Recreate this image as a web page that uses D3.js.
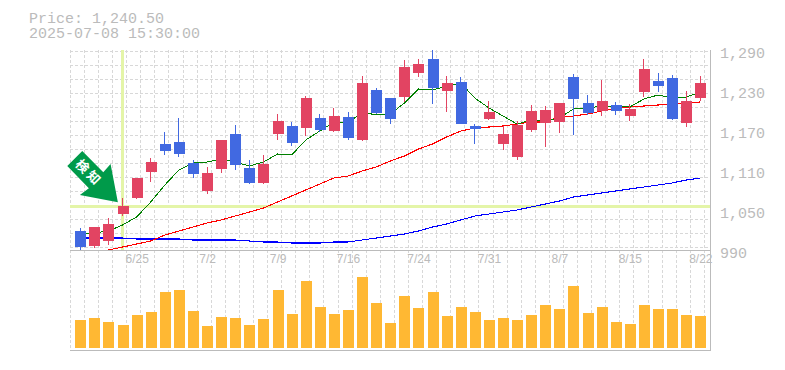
<!DOCTYPE html>
<html><head><meta charset="utf-8">
<script src="https://cdn.jsdelivr.net/npm/d3@7"></script>
<style>html,body{margin:0;padding:0;background:#fff;overflow:hidden}svg{display:block}</style>
</head><body><div id="chart"></div>
<script>
const headerLines = ["Price: 1,240.50", "2025-07-08 15:30:00"];
const badgeText = "検知";
const priceTicks = [990, 1050, 1110, 1170, 1230, 1290];
const dateIndex = [4, 9, 14, 19, 24, 29, 34, 39, 44];
const dateLabels = ["6/25", "7/2", "7/9", "7/16", "7/24", "7/31", "8/7", "8/15", "8/22"];
const markerIndex = 3;
const markerPrice = 1056;
const open = [1018.5,996,1003.5,1044,1068,1107,1149,1152,1120.5,1078.5,1111.5,1164,1113,1090.5,1164,1176,1173,1188,1168.5,1189.5,1155,1230,1218,1219.5,1255.5,1276.5,1228.5,1242,1176,1186.5,1149,1129.5,1170,1180.5,1182,1249.5,1210.5,1198.5,1207.5,1191,1227,1243.5,1248,1180.5,1218];
const close = [994.5,1024.5,1029,1056,1098,1122,1138.5,1134,1104,1105.5,1155,1117.5,1090.5,1119,1183.5,1150.5,1218,1170,1191,1158,1240.5,1195.5,1186.5,1264.5,1269,1233,1240.5,1179,1171.5,1197,1164,1177.5,1198.5,1200,1210.5,1216.5,1195.5,1213.5,1198.5,1201.5,1261.5,1236,1186.5,1213.5,1240.5];
const high = [1023,1024.5,1038,1068,1098,1128,1167,1188,1125,1114.5,1155,1177.5,1125,1132.5,1194,1182,1221,1194,1203,1197,1251,1233,1218,1275,1276.5,1290,1251,1249.5,1179,1213.5,1176,1183.5,1207.5,1206,1210.5,1254,1222.5,1245,1212,1209,1276.5,1255.5,1252.5,1228.5,1251];
const low = [990,993,997.5,1041,1066.5,1092,1132.5,1129.5,1098,1074,1105.5,1110,1089,1089,1155,1146,1161,1167,1167,1155,1153.5,1194,1179,1212,1249.5,1209,1197,1179,1149,1185,1140,1125,1167,1144.5,1165.5,1162.5,1192.5,1191,1192.5,1183.5,1219.5,1227,1185,1174.5,1213.5];
const maShort = [1015.5,1015.5,1018.5,1027.5,1039.5,1062,1087.5,1110,1120.5,1122,1126.5,1122,1116,1122,1134,1132.5,1155,1168.5,1182,1180.5,1197,1192.5,1194,1210.5,1231.5,1230,1236,1240.5,1218,1203,1191,1179,1185,1183.5,1188,1201.5,1203,1206,1206,1204.5,1216.5,1222.5,1218,1219.5,1227];
const maMid = [null,null,990,994.5,999,1003.5,1012.5,1018.5,1024.5,1030.5,1035,1041,1047,1053,1062,1071,1080,1089,1098,1101,1108.5,1114.5,1123.5,1131,1141.5,1149,1159.5,1168.5,1173,1174.5,1176,1179,1182,1182,1189.5,1191,1194,1198.5,1203,1204.5,1206,1207.5,1209,1210.5,1212];
const maLong = [1008,1008,1008,1008,1006.5,1006.5,1006.5,1006.5,1005,1005,1005,1005,1003.5,1002,1002,1000.5,1000.5,1000.5,1002,1002,1005,1008,1011,1014,1018.5,1024.5,1029,1035,1041,1044,1047,1050,1054.5,1059,1063.5,1069.5,1072.5,1075.5,1078.5,1081.5,1084.5,1087.5,1090.5,1095,1098];
const volume = [28,30,26,23,33,36,56,58,37,22,31,30,23,29,58,34,67,41,34,38,71,45,25,52,40,56,32,41,36,28,30,28,33,43,39,62,35,41,26,24,43,39,39,33,32];

const W = 785, H = 370;
const cUp = "#e24462", cDown = "#4169e1", cGrid = "#d8d8d8", cAxis = "#bbbbbb", cText = "#bbbbbb", cCross = "#e4f5a8", cVol = "#ffb833";
const svg = d3.select("#chart").append("svg").attr("width", W).attr("height", H);
const x = d3.scaleLinear().domain([0, 44]).range([80.3, 700.3]);
const y = d3.scaleLinear().domain([990, 1290]).range([250, 50]);
const yv = d3.scaleLinear().domain([0, 71]).range([348, 277]);
const crisp = "crispEdges";

// grid
const gridG = svg.append("g").attr("stroke", cGrid).attr("stroke-width", 1).attr("stroke-dasharray", "3,2").attr("shape-rendering", crisp);
gridG.selectAll(".v").data(d3.range(46)).join("line").attr("class", "v")
  .attr("x1", i => x(i) - 10).attr("x2", i => x(i) - 10).attr("y1", 50).attr("y2", 350);
gridG.selectAll(".h").data(d3.range(15)).join("line").attr("class", "h")
  .attr("x1", 70).attr("x2", 710).attr("y1", k => y(1288.5 - 21 * k)).attr("y2", k => y(1288.5 - 21 * k));

// crosshair
svg.append("line").attr("x1", x(markerIndex)).attr("x2", x(markerIndex)).attr("y1", 50).attr("y2", 250).attr("stroke", cCross).attr("stroke-width", 3).attr("shape-rendering", crisp);
svg.append("line").attr("x1", 70).attr("x2", 710).attr("y1", y(markerPrice)).attr("y2", y(markerPrice)).attr("stroke", cCross).attr("stroke-width", 3).attr("shape-rendering", crisp);

// moving averages
const line = d3.line().defined(d => d != null).x((d, i) => x(i)).y(d => y(d));
[[maLong, "#0000ff", 1.1], [maMid, "#ff0000", 1.1], [maShort, "#008000", 1]].forEach(([s, c, w]) => {
  svg.append("path").datum(s).attr("d", line).attr("fill", "none").attr("stroke", c).attr("stroke-width", w).attr("shape-rendering", crisp);
});

// candles
const idx = d3.range(open.length);
const col = i => close[i] >= open[i] ? cUp : cDown;
const cg = svg.append("g").attr("shape-rendering", crisp);
cg.selectAll(".w").data(idx).join("line").attr("class", "w")
  .attr("x1", i => x(i)).attr("x2", i => x(i)).attr("y1", i => y(high[i])).attr("y2", i => y(low[i]))
  .attr("stroke", col).attr("stroke-width", 1);
cg.selectAll(".b").data(idx).join("rect").attr("class", "b")
  .attr("x", i => Math.round(x(i)) - 5).attr("width", 11)
  .attr("y", i => y(Math.max(open[i], close[i])))
  .attr("height", i => Math.abs(y(open[i]) - y(close[i])))
  .attr("fill", col);

// volume
svg.append("g").attr("shape-rendering", crisp).selectAll("rect").data(idx).join("rect")
  .attr("x", i => Math.round(x(i)) - 5).attr("width", 11)
  .attr("y", i => yv(volume[i])).attr("height", i => 348 - yv(volume[i])).attr("fill", cVol);

// frame
const frame = svg.append("g").attr("stroke", cAxis).attr("stroke-width", 1).attr("shape-rendering", crisp);
frame.append("line").attr("x1", 70).attr("x2", 710.5).attr("y1", 250.5).attr("y2", 250.5);
frame.append("line").attr("x1", 70).attr("x2", 710.5).attr("y1", 350.5).attr("y2", 350.5);
frame.append("line").attr("x1", 710.5).attr("x2", 710.5).attr("y1", 50).attr("y2", 351);

// price axis
const pa = svg.append("g").attr("transform", "translate(720,0)")
  .call(d3.axisRight(y).tickValues(priceTicks).tickSize(0).tickPadding(0).tickFormat(d3.format(",")));
pa.select(".domain").remove();
pa.selectAll("text").attr("fill", cText).attr("font-family", "'Liberation Mono',monospace").attr("font-size", 15).attr("dy", "0.62em").attr("y", 0);
pa.selectAll(".tick").each(function() {
  d3.select(this).select("text").attr("transform", "translate(0,-2)");
});

// date axis
const da = svg.append("g").attr("transform", "translate(0,254)")
  .call(d3.axisBottom(x).tickValues(dateIndex).tickSize(0).tickPadding(0).tickFormat((d, i) => dateLabels[i]));
da.select(".domain").remove();
da.selectAll("text").attr("fill", cText).attr("font-family", "'Liberation Sans',Arial,sans-serif").attr("font-size", 12);

// header
svg.append("g").selectAll("text").data(headerLines).join("text")
  .attr("x", 29).attr("y", (d, i) => 23 + i * 14.7).text(d => d)
  .attr("fill", cText).attr("font-family", "'Liberation Mono',monospace").attr("font-size", 15);

// badge
const bx = x(markerIndex), by = y(markerPrice);
const arrowShape = [[-55.3,-40],[-40.3,-55],[-19.3,-33.7],[-12,-42],[-4.7,-3.7],[-42.7,-11],[-33.7,-17.7]];
svg.append("polygon").attr("points", arrowShape.map(p => [bx + p[0], by + p[1]].join(",")).join(" ")).attr("fill", "#009a4a");
svg.append("text").attr("transform", `translate(${bx - 33.5},${by - 33}) rotate(45)`).attr("text-anchor", "middle").attr("dy", "0.36em")
  .attr("letter-spacing", 3).attr("font-family", "'Noto Sans CJK JP',sans-serif").attr("font-weight", 700).attr("font-size", 13).attr("fill", "#fff").text(badgeText);
</script></body></html>
